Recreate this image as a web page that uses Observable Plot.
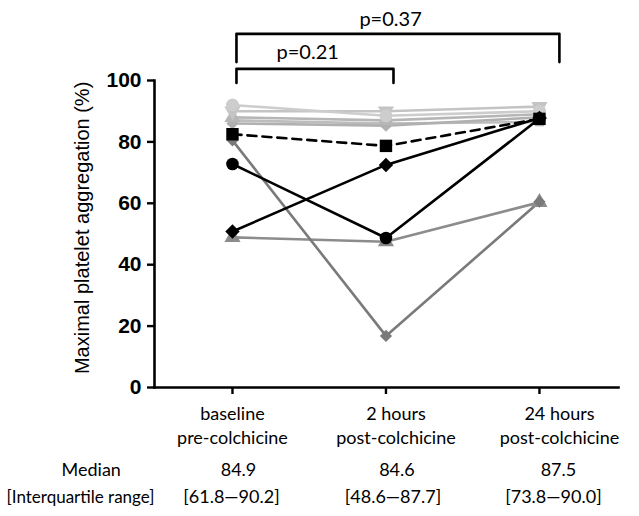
<!DOCTYPE html>
<html>
<head>
<meta charset="utf-8">
<script src="https://cdn.jsdelivr.net/npm/d3@7"></script>
<script src="https://cdn.jsdelivr.net/npm/@observablehq/plot@0.6"></script>
<style>
  html, body { margin: 0; padding: 0; background: #fff; }
</style>
</head>
<body>
<div id="chart"></div>
<script>
// ---- data ----
const timepoints = ["baseline\npre-colchicine", "2 hours\npost-colchicine", "24 hours\npost-colchicine"];
const yTicks = [0, 20, 40, 60, 80, 100];

// individual subjects (maximal platelet aggregation, %)
const lightCircle   = [92.0, 88.5, 90.0];
const lightInvTri   = [90.0, 90.0, 91.5];
const lightTri      = [88.0, 87.0, 89.0];
const lightDiamond  = [86.0, 85.3, 88.0];
const lightSquare   = [87.0, 86.0, 86.5];
const grayDiamond   = [80.5, 16.8, 60.5];
const grayTriangle  = [48.9, 47.5, 60.3];
const blackSquare   = [82.5, 78.7, 87.5];
const blackCircle   = [72.8, 48.7, 87.6];
const blackDiamond  = [50.8, 72.5, 87.8];

const medians = ["84.9", "84.6", "87.5"];
const iqrs = ["[61.8\u201490.2]", "[48.6\u201487.7]", "[73.8\u201490.0]"];
const rowLabels = ["Median", "[Interquartile range]"];

const pBrackets = [
  {label: "p=0.37", x1: 0.026, x2: 2.13, top: 115.2, bottom: 106.0, tx: 1.03, ty: 120.0},
  {label: "p=0.21", x1: 0.026, x2: 1.049, top: 103.8, bottom: 99.2, tx: 0.49, ty: 109.0}
];

// ---- styling ----
const series = [
  {values: lightSquare,  color: "#bdbdbd", symbol: "square",   r: 5,   rotate: 0},
  {values: lightDiamond, color: "#b0b0b0", symbol: "diamond2", r: 5.5, rotate: 0},
  {values: lightTri,     color: "#b6b6b6", symbol: "triangle", r: 6,   rotate: 0},
  {values: lightInvTri,  color: "#c4c4c4", symbol: "triangle", r: 6,   rotate: 180},
  {values: lightCircle,  color: "#cdcdcd", symbol: "circle",   r: 6.5, rotate: 0},
  {values: grayTriangle, color: "#8c8c8c", symbol: "triangle", r: 6,   rotate: 0},
  {values: grayDiamond,  color: "#7a7a7a", symbol: "diamond2", r: 5.5, rotate: 0},
  {values: blackSquare,  color: "#000000", symbol: "square",   r: 7,   rotate: 0, dash: "9,6"},
  {values: blackCircle,  color: "#000000", symbol: "circle",   r: 6.3, rotate: 0},
  {values: blackDiamond, color: "#000000", symbol: "diamond2", r: 6.5, rotate: 0}
];
const labelDx  = [0, 10, 20];   // column text sits a little right of its tick
const medianDx = [6, 11, 19];
const iqrDx    = [-1, 7, 14];

const calib = "Lato, 'Open Sans', sans-serif";
const arial = "'Liberation Sans', Arial, sans-serif";

const marks = [];

// subject lines & markers
for (const s of series) {
  const pts = s.values.map((v, i) => ({t: i, v}));
  marks.push(Plot.line(pts, {x: "t", y: "v", stroke: s.color, strokeWidth: 2.6,
    strokeDasharray: s.dash || null}));
}
for (const s of series) {
  const pts = s.values.map((v, i) => ({t: i, v}));
  marks.push(Plot.dot(pts, {x: "t", y: "v", symbol: () => s.symbol, r: s.r, fill: s.color,
    stroke: "none", rotate: s.rotate}));
}

// p-value brackets
for (const b of pBrackets) {
  const path = [
    {x: b.x1, y: b.bottom}, {x: b.x1, y: b.top}, {x: b.x2, y: b.top}, {x: b.x2, y: b.bottom}
  ];
  marks.push(Plot.line(path, {x: "x", y: "y", stroke: "#000", strokeWidth: 2.6, curve: "linear"}));
  marks.push(Plot.text([b], {x: "tx", y: "ty", text: "label", fontSize: 20, fontFamily: calib, fill: "#000"}));
}

// axes
marks.push(Plot.frame({anchor: "left", stroke: "#000", strokeWidth: 2.6}));
marks.push(Plot.frame({anchor: "bottom", stroke: "#000", strokeWidth: 2.6}));
marks.push(Plot.axisY({ticks: yTicks, tickSize: 7, tickPadding: 6, fontSize: 21, fontWeight: "bold",
  fontFamily: arial, label: null, strokeWidth: 2.4, color: "#000"}));
marks.push(Plot.axisX({ticks: [0, 1, 2], tickFormat: () => "", tickSize: 7, label: null,
  strokeWidth: 2.4, color: "#000"}));

// category labels, medians, IQRs
timepoints.forEach((lab, i) => {
  marks.push(Plot.text([{t: i, lab}], {x: "t", y: 0, text: "lab", dy: 16, dx: labelDx[i],
    lineAnchor: "top", lineHeight: 1.32, fontSize: 18, fontFamily: calib, fill: "#000"}));
  marks.push(Plot.text([{t: i, m: medians[i]}], {x: "t", y: -26.8, text: "m", dx: medianDx[i],
    fontSize: 18, fontFamily: calib, fill: "#000"}));
  marks.push(Plot.text([{t: i, m: iqrs[i]}], {x: "t", y: -35.9, text: "m", dx: iqrDx[i],
    fontSize: 18, fontFamily: calib, fill: "#000"}));
});
marks.push(Plot.text([rowLabels[0]], {x: -0.92, y: -26.8, fontSize: 18, fontFamily: calib, fill: "#000"}));
marks.push(Plot.text([rowLabels[1]], {x: -0.99, y: -35.9, fontSize: 17, fontFamily: calib, fill: "#000"}));

// y-axis title
marks.push(Plot.text(["Maximal platelet aggregation (%)"], {x: -0.508, y: 52, dx: -72, rotate: -90,
  fontSize: 20, fontFamily: arial, fill: "#000"}));

const chart = Plot.plot({
  width: 639,
  height: 516,
  marginTop: 80,
  marginBottom: 129,
  marginLeft: 154,
  marginRight: 21,
  x: {type: "linear", domain: [-0.508, 2.515], axis: null},
  y: {domain: [0, 100], axis: null},
  style: {background: "#fff", overflow: "visible"},
  marks
});
document.getElementById("chart").appendChild(chart);
</script>
</body>
</html>
